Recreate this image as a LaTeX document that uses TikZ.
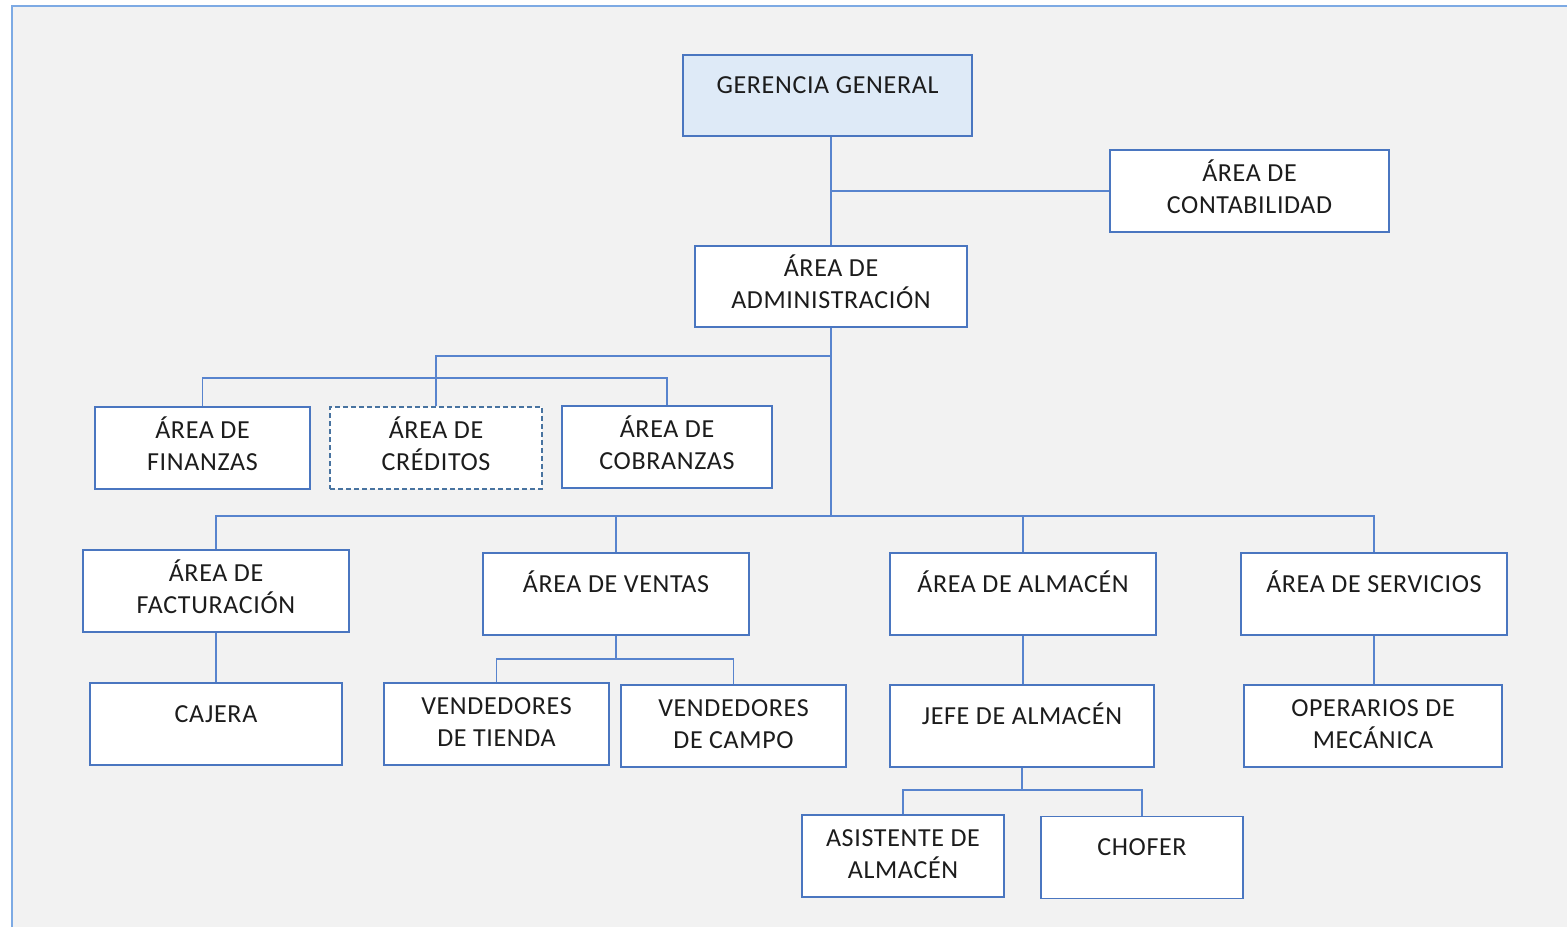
\documentclass[tikz,border=0pt]{standalone}
\usepackage{fontspec}
\setmainfont{Carlito}[LetterSpace=2.5]
\definecolor{bgcol}{RGB}{242,242,242}
\definecolor{framecol}{RGB}{125,170,228}
\definecolor{boxcol}{RGB}{74,118,192}
\definecolor{linecol}{RGB}{88,132,206}
\definecolor{dashcol}{RGB}{72,115,160}
\definecolor{topfill}{RGB}{222,234,247}
\definecolor{txtcol}{RGB}{28,28,28}
\newcommand{\oneline}[1]{\raisebox{4pt}[11.2pt][4.8pt]{#1}}
\newcommand{\twolines}[2]{\strut #1\\\strut #2}
\tikzset{
  orgbox/.style={draw=boxcol, line width=0.75pt, fill=white, rectangle, inner sep=0pt,
    align=center, text=txtcol, font=\fontsize{13}{16}\selectfont},
  conn/.style={draw=linecol, line width=0.75pt}
}
\begin{document}
\begin{tikzpicture}[x=0.5pt,y=-0.5pt]
\useasboundingbox (0,0) rectangle (1567,927);
\fill[bgcol] (11.5,6) rectangle (1567,927);
\draw[framecol, line width=1pt] (11.5,927) -- (11.5,6) -- (1567,6);

\node[orgbox, fill=topfill, minimum width=144.5pt, minimum height=40.5pt] (gg) at (827.5,95.5) {\oneline{GERENCIA GENERAL}};
\node[orgbox, minimum width=139.5pt, minimum height=41pt] (cont) at (1249.5,191) {\twolines{ÁREA DE}{CONTABILIDAD}};
\node[orgbox, minimum width=136pt, minimum height=40.5pt] (adm) at (831,286.5) {\twolines{ÁREA DE}{ADMINISTRACIÓN}};

\node[orgbox, minimum width=107.5pt, minimum height=41pt] (fin) at (202.5,448) {\twolines{ÁREA DE}{FINANZAS}};
\node[orgbox, draw=dashcol, dash pattern=on 2.5pt off 1.5pt, minimum width=106pt, minimum height=41pt] (cred) at (436,448) {\twolines{ÁREA DE}{CRÉDITOS}};
\node[orgbox, minimum width=105pt, minimum height=41pt] (cob) at (667,447) {\twolines{ÁREA DE}{COBRANZAS}};

\node[orgbox, minimum width=133pt, minimum height=41pt] (fac) at (216,591) {\twolines{ÁREA DE}{FACTURACIÓN}};
\node[orgbox, minimum width=133pt, minimum height=41pt] (ven) at (616,594) {\oneline{ÁREA DE VENTAS}};
\node[orgbox, minimum width=133pt, minimum height=41pt] (alm) at (1023,594) {\oneline{ÁREA DE ALMACÉN}};
\node[orgbox, minimum width=133pt, minimum height=41pt] (serv) at (1374,594) {\oneline{ÁREA DE SERVICIOS}};

\node[orgbox, minimum width=126pt, minimum height=41pt] (caj) at (216,724) {\oneline{CAJERA}};
\node[orgbox, minimum width=112.5pt, minimum height=41pt] (vt) at (496.5,724) {\twolines{VENDEDORES}{DE TIENDA}};
\node[orgbox, minimum width=112.5pt, minimum height=41pt] (vc) at (733.5,726) {\twolines{VENDEDORES}{DE CAMPO}};
\node[orgbox, minimum width=132pt, minimum height=41pt] (jefe) at (1022,726) {\oneline{JEFE DE ALMACÉN}};
\node[orgbox, minimum width=129pt, minimum height=41pt] (oper) at (1373,726) {\twolines{OPERARIOS DE}{MECÁNICA}};

\node[orgbox, minimum width=101pt, minimum height=41pt] (asis) at (903,856) {\twolines{ASISTENTE DE}{ALMACÉN}};
\node[orgbox, minimum width=101pt, minimum height=41pt] (chof) at (1142,857.5) {\oneline{CHOFER}};

\coordinate (jc) at (831,356);
\coordinate (l2) at (0,378);
\coordinate (l3) at (0,516);
\coordinate (l4) at (0,659);
\coordinate (l5) at (0,790);

\draw[conn] (adm.north |- gg.south) -- (adm.north);
\draw[conn] (cont.west) -- (cont.west -| adm.north);
\draw[conn] (adm.south) -- (adm.south |- l3);
\draw[conn] (cred.north) |- (jc);
\draw[conn] (fin.north) -- (fin.north |- l2) -| (cob.north);
\draw[conn] (fac.north) -- (fac.north |- l3) -| (serv.north);
\draw[conn] (ven.north) -- (ven.north |- l3);
\draw[conn] (alm.north) -- (alm.north |- l3);
\draw[conn] (fac.south) -- (fac.south |- caj.north);
\draw[conn] (ven.south) -- (ven.south |- l4);
\draw[conn] (vt.north) -- (vt.north |- l4) -| (vc.north);
\draw[conn] (alm.south) -- (alm.south |- jefe.north);
\draw[conn] (serv.south) -- (serv.south |- oper.north);
\draw[conn] (jefe.south) -- (jefe.south |- l5);
\draw[conn] (asis.north) -- (asis.north |- l5) -| (chof.north);
\end{tikzpicture}
\end{document}
